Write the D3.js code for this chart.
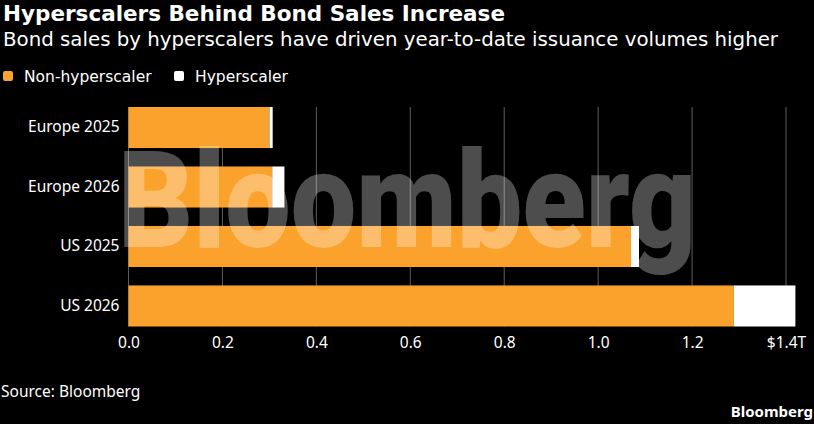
<!DOCTYPE html>
<html>

<head>
    <meta charset="utf-8">
    <style>
        body {
            margin: 0;
            background-color: black;
            font-family: 'Noto Sans', sans-serif;
        }

        svg {
            display: block;
        }
    </style>
</head>

<body>
    <svg width="814" height="424"></svg>
</body>

<script src="https://d3js.org/d3.v7.min.js"></script>

<script>
    // data ($ trillions, year-to-date)
    let categories = ["Europe 2025", "Europe 2026", "US 2025", "US 2026"]
    let nonHyperscaler = [0.300, 0.306, 1.070, 1.289]
    let hyperscaler = [0.007, 0.026, 0.017, 0.131]
    let seriesNames = ["Non-hyperscaler", "Hyperscaler"]
    let ticks = [0, 0.2, 0.4, 0.6, 0.8, 1.0, 1.2, 1.4]

    let width = 814
    let height = 424
    let orange = "#fba22d"

    let svg = d3.select("svg")

    svg.append("rect")
        .attr("width", width)
        .attr("height", height)
        .attr("fill", "black")

    // title + subtitle
    svg.append("text")
        .attr("x", 3)
        .attr("y", 21)
        .attr("fill", "white")
        .style("font-size", "21.5px")
        .style("font-weight", "bold")
        .style("font-family", "'DejaVu Sans', sans-serif")
        .text("Hyperscalers Behind Bond Sales Increase")

    svg.append("text")
        .attr("x", 3)
        .attr("y", 46)
        .attr("fill", "white")
        .style("font-size", "19.8px")
        .style("font-family", "'DejaVu Sans', sans-serif")
        .text("Bond sales by hyperscalers have driven year-to-date issuance volumes higher")

    // legend
    let color = d3.scaleOrdinal()
        .domain(seriesNames)
        .range([orange, "white"])

    let legendX = [3, 174]
    let legend = svg.selectAll(".legend")
        .data(seriesNames)
        .join("g")
        .attr("class", "legend")
        .attr("transform", (d, i) => "translate(" + legendX[i] + ",71)")

    legend.append("rect")
        .attr("width", 10)
        .attr("height", 10)
        .attr("rx", 2)
        .attr("fill", d => color(d))

    legend.append("text")
        .attr("x", 21)
        .attr("y", 11)
        .attr("fill", "white")
        .style("font-size", "15.5px")
        .style("font-family", "'DejaVu Sans', sans-serif")
        .text(d => d)

    // scales
    let x = d3.scaleLinear()
        .domain([0, 1.4])
        .range([128.5, 786])

    let y = d3.scaleBand()
        .domain(categories)
        .range([107, 326.5])
        .paddingInner(0.31)
        .paddingOuter(0)

    // grid lines, bars go over them
    svg.append("g")
        .selectAll("line")
        .data(ticks)
        .join("line")
        .attr("x1", d => x(d))
        .attr("x2", d => x(d))
        .attr("y1", y.range()[0])
        .attr("y2", y.range()[1])
        .attr("stroke", "#5e5e5e")
        .attr("stroke-width", 1)

    // stacked bars
    let rows = categories.map((c, i) => ({ cat: c, non: nonHyperscaler[i], hyp: hyperscaler[i] }))

    svg.append("g")
        .selectAll("rect")
        .data(rows)
        .join("rect")
        .attr("x", x(0))
        .attr("y", d => y(d.cat))
        .attr("width", d => x(d.non) - x(0))
        .attr("height", y.bandwidth())
        .attr("fill", color("Non-hyperscaler"))

    svg.append("g")
        .selectAll("rect")
        .data(rows)
        .join("rect")
        .attr("x", d => x(d.non))
        .attr("y", d => y(d.cat))
        .attr("width", d => x(d.non + d.hyp) - x(d.non))
        .attr("height", y.bandwidth())
        .attr("fill", color("Hyperscaler"))

    // big see-through watermark over the plot
    svg.append("text")
        .attr("x", 118)
        .attr("y", 247)
        .attr("fill", "white")
        .attr("fill-opacity", 0.3)
        .attr("textLength", 578)
        .attr("lengthAdjust", "spacingAndGlyphs")
        .style("font-size", "136px")
        .style("font-weight", 900)
        .style("font-family", "Roboto, 'Liberation Sans', sans-serif")
        .text("Bloomberg")

    // category labels
    let yAxis = svg.append("g")
        .attr("transform", "translate(" + (x(0) - 9) + ",0)")
        .call(d3.axisLeft(y).tickSize(0).tickPadding(0))

    yAxis.select(".domain").remove()
    yAxis.selectAll("text")
        .attr("fill", "white")
        .style("font-size", "15.5px")
        .style("font-family", "'Noto Sans', sans-serif")

    // x axis tick labels
    let xAxis = svg.append("g")
        .attr("transform", "translate(0," + y.range()[1] + ")")
        .call(d3.axisBottom(x)
            .tickValues(ticks)
            .tickSize(0)
            .tickPadding(10)
            .tickFormat(d => d == 1.4 ? "$1.4T" : d3.format(".1f")(d)))

    xAxis.select(".domain").remove()
    xAxis.selectAll("text")
        .attr("fill", "white")
        .style("font-size", "15.5px")
        .style("font-family", "'Noto Sans', sans-serif")

    // footer
    svg.append("text")
        .attr("x", 1)
        .attr("y", 397)
        .attr("fill", "white")
        .style("font-size", "15.5px")
        .text("Source: Bloomberg")

    svg.append("text")
        .attr("x", 813)
        .attr("y", 417)
        .attr("text-anchor", "end")
        .attr("fill", "white")
        .style("font-size", "15px")
        .style("font-weight", "bold")
        .text("Bloomberg")

</script>

</html>
